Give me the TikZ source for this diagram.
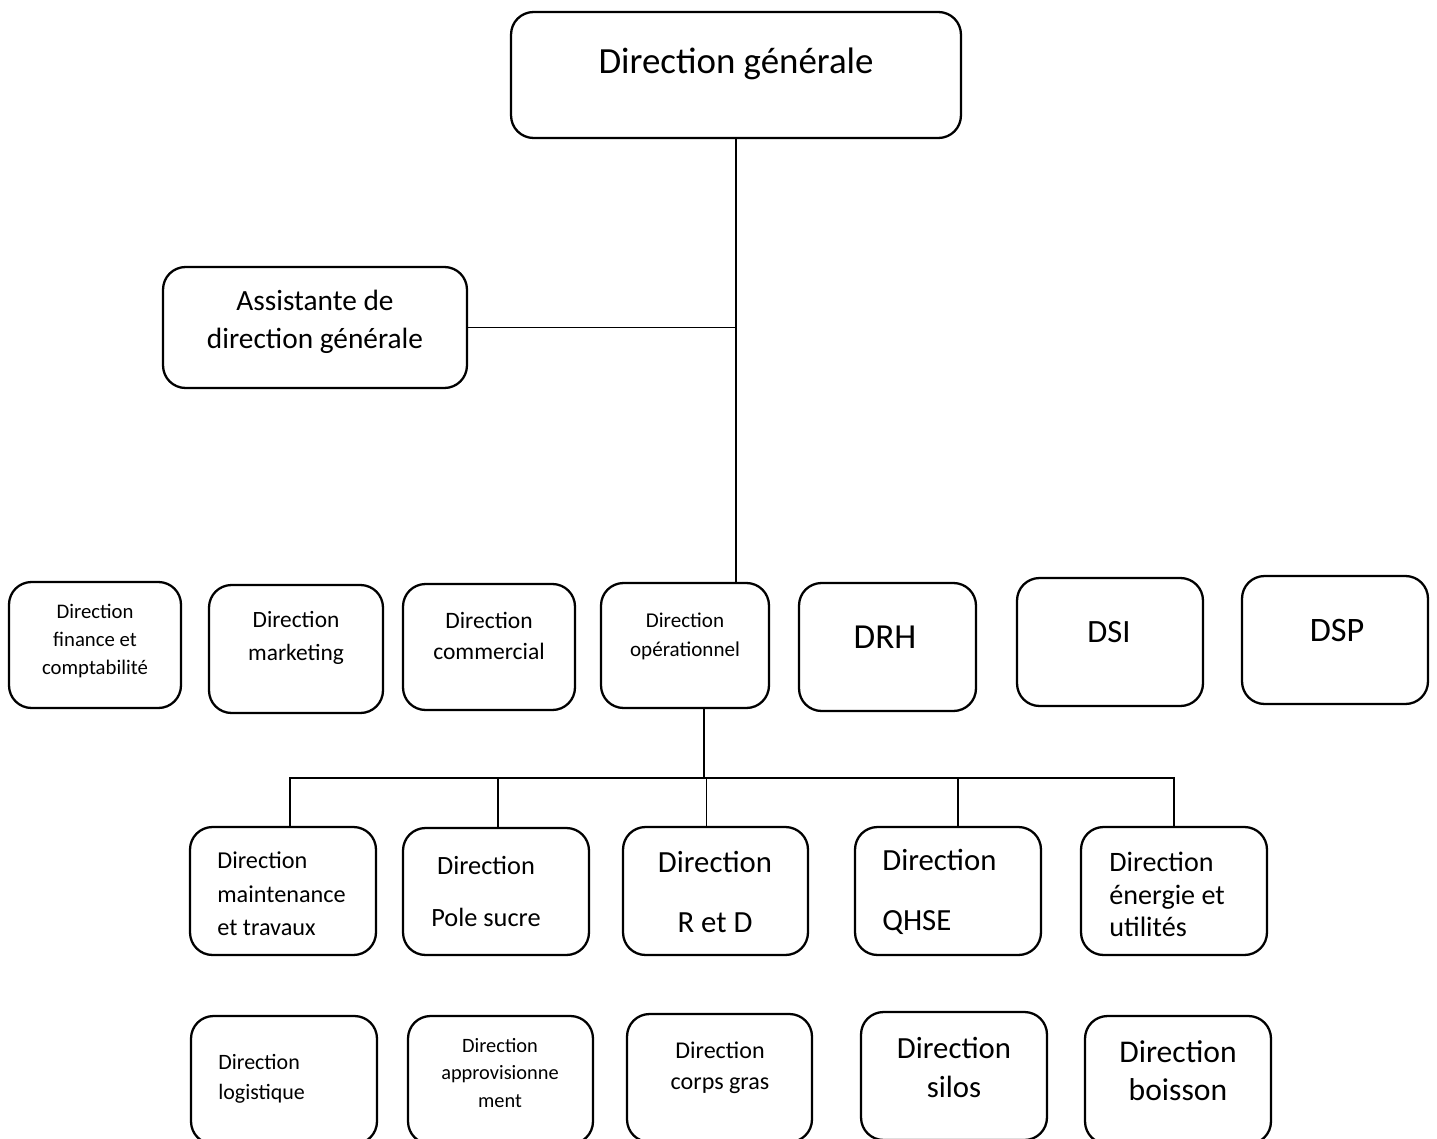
\documentclass[tikz,border=0pt]{standalone}
\usepackage{fontspec}
\setmainfont{Carlito}
\newcommand{\fs}[2]{\fontsize{#1pt}{#2pt}\selectfont}

\begin{document}
\begin{tikzpicture}[x = 0.02cm, y = -0.02cm, box/.style={draw, rounded corners = 0.45cm, line width = 1.3pt, inner sep = 0pt}, lbl/.style={inner sep = 0pt, align = center}, lbll/.style={inner sep = 0pt, align = left, anchor = west}, link/.style={line width = 0.7pt}]
  \useasboundingbox (0,0) rectangle (1437,1139);
  \clip (0,0) rectangle (1437,1139);

  % boxes - top
  \node [box, minimum width = 9cm, minimum height = 2.52cm] (dg) at (736,75) {};
  \node [box, minimum width = 6.08cm, minimum height = 2.42cm] (asst) at (315,327.5) {};

  % boxes - first row
  \node [box, minimum width = 3.44cm, minimum height = 2.52cm] (fin) at (95,645) {};
  \node [box, minimum width = 3.48cm, minimum height = 2.56cm] (mkt) at (296,649) {};
  \node [box, minimum width = 3.44cm, minimum height = 2.52cm] (com) at (489,647) {};
  \node [box, minimum width = 3.36cm, minimum height = 2.5cm] (ope) at (685,645.5) {};
  \node [box, minimum width = 3.54cm, minimum height = 2.56cm] (drh) at (887.5,647) {};
  \node [box, minimum width = 3.72cm, minimum height = 2.56cm] (dsi) at (1110,642) {};
  \node [box, minimum width = 3.72cm, minimum height = 2.56cm] (dsp) at (1335,640) {};

  % boxes - second row
  \node [box, minimum width = 3.72cm, minimum height = 2.56cm] (mnt) at (283,891) {};
  \node [box, minimum width = 3.72cm, minimum height = 2.54cm] (pole) at (496,891.5) {};
  \node [box, minimum width = 3.7cm, minimum height = 2.56cm] (rd) at (715.5,891) {};
  \node [box, minimum width = 3.72cm, minimum height = 2.56cm] (qhse) at (948,891) {};
  \node [box, minimum width = 3.72cm, minimum height = 2.56cm] (nrj) at (1174,891) {};

  % boxes - third row
  \node [box, minimum width = 3.72cm, minimum height = 2.56cm] (log) at (284,1080) {};
  \node [box, minimum width = 3.7cm, minimum height = 2.56cm] (appro) at (500.5,1080) {};
  \node [box, minimum width = 3.7cm, minimum height = 2.56cm] (corps) at (719.5,1078) {};
  \node [box, minimum width = 3.72cm, minimum height = 2.56cm] (silos) at (954,1076) {};
  \node [box, minimum width = 3.72cm, minimum height = 2.56cm] (boisson) at (1178,1080) {};

  % labels
  \node [lbl, font = \fs{21}{25}] (dg-txt) at (736,64) {Direction générale};
  \node [lbl, font = \fs{16.7}{21.5}] (asst-txt) at (315,322) {Assistante de\\direction générale};
  \node [lbl, font = \fs{11.8}{15.9}] (fin-txt) at (95,641) {Direction\\finance et\\comptabilité};
  \node [lbl, font = \fs{13.3}{18.7}] (mkt-txt) at (296,637.5) {Direction\\marketing};
  \node [lbl, font = \fs{13.4}{17.6}] (com-txt) at (489,635.5) {Direction\\commercial};
  \node [lbl, font = \fs{12}{16.4}] (ope-txt) at (685,636.5) {Direction\\opérationnel};
  \node [lbl, font = \fs{20}{24}] (drh-txt) at (885,637) {DRH};
  \node [lbl, font = \fs{18.5}{22}] (dsi-txt) at (1109,632) {DSI};
  \node [lbl, font = \fs{19.5}{23}] (dsp-txt) at (1337,630) {DSP};

  \node [lbll, font = \fs{13.8}{19}] (mnt-txt) at (217,894) {Direction\\maintenance\\et travaux};
  \node [lbl, font = \fs{15}{30}] (pole-txt) at (486,891.5) {Direction\\Pole sucre};
  \node [lbl, font = \fs{17.5}{34}] (rd-txt) at (715,892) {Direction\\R et D};
  \node [lbll, font = \fs{17.5}{34}] (qhse-txt) at (882,892) {Direction\\QHSE};
  \node [lbll, font = \fs{16}{18.4}] (nrj-txt) at (1109,894.5) {Direction\\énergie et\\utilités};

  \node [lbll, font = \fs{12.5}{17}] (log-txt) at (218,1079) {Direction\\logistique};
  \node [lbl, font = \fs{11.6}{15.9}] (appro-txt) at (500,1073) {Direction\\approvisionne\\ment};
  \node [lbl, font = \fs{13.7}{17.6}] (corps-txt) at (720,1067.5) {Direction\\corps gras};
  \node [lbl, font = \fs{17.5}{22}] (silos-txt) at (954,1067.5) {Direction\\silos};
  \node [lbl, font = \fs{18}{21.5}] (boisson-txt) at (1178,1071) {Direction\\boisson};

  % edges
  \coordinate (hub) at (704,778);
  \coordinate (bus-l) at (289,778);
  \coordinate (bus-r) at (1175,778);

  \draw [link] (dg.south) -- (dg.south |- ope.north);
  \draw [link] (asst.east) -- (dg.south |- asst.east);
  \draw [link] (hub |- ope.south) -- (hub);
  \draw [link] (bus-l) -- (bus-r);

  \draw [link] ([xshift = 0.14cm]mnt.north) -- ([xshift = 0.14cm]mnt.north |- hub);
  \draw [link] ([xshift = 0.04cm]pole.north) -- ([xshift = 0.04cm]pole.north |- hub);
  \draw [link] ([xshift = -0.18cm]rd.north) -- ([xshift = -0.18cm]rd.north |- hub);
  \draw [link] ([xshift = 0.2cm]qhse.north) -- ([xshift = 0.2cm]qhse.north |- hub);
  \draw [link] (nrj.north) -- (nrj.north |- hub);

\end{tikzpicture}
\end{document}
